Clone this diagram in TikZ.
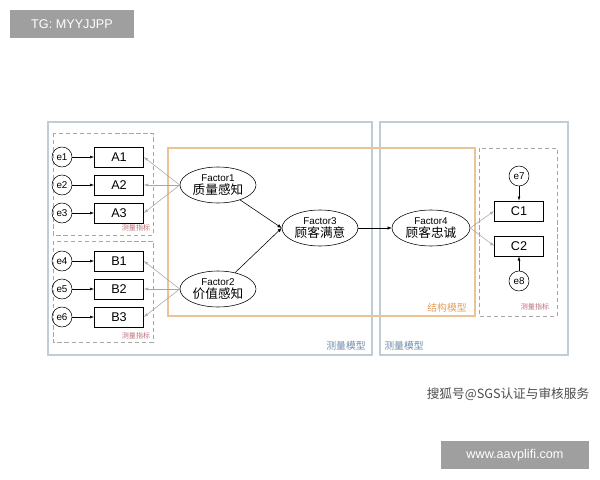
\documentclass[tikz,border=0pt]{standalone}
\usepackage{fontspec}
\setmainfont{Liberation Sans}
\newfontfamily\cjk{Noto Sans CJK SC}
\usetikzlibrary{shapes.geometric,arrows.meta}
\definecolor{framegray}{RGB}{190,205,215}
\definecolor{framelbl}{RGB}{110,140,170}
\definecolor{orangefr}{RGB}{235,195,150}
\definecolor{orangelbl}{RGB}{225,160,90}
\definecolor{redlbl}{RGB}{190,110,120}
\tikzset{
  err/.style={draw, circle, minimum size=20*0.025cm, inner sep=0pt, font=\scriptsize},
  ind/.style={draw, minimum width=49*0.025cm, minimum height=20*0.025cm, inner sep=0pt, font=\small},
  fac/.style={draw, ellipse, minimum width=76*0.025cm, minimum height=36*0.025cm, inner sep=0pt, align=center},
  load/.style={-{Latex[length=3pt,width=2pt]}, gray!70},
  path/.style={-{Latex[length=3pt,width=2.5pt]}, black},
  grp/.style={draw=gray!70, densely dashed},
  lbl/.style={font=\cjk\tiny, text=redlbl}
}
\begin{document}
\begin{tikzpicture}[x=0.025cm, y=-0.025cm]
  \useasboundingbox (0,0) rectangle (600,480);
  % frames
  \draw[framegray, thick] (48,122) rectangle (372,355);
  \draw[framegray, thick] (380,122) rectangle (568,355);
  \draw[orangefr, thick] (168,148) rectangle (475,316);
  \node[font=\cjk\scriptsize, text=framelbl] (lblL) at (346,346) {测量模型};
  \node[font=\cjk\scriptsize, text=framelbl] (lblR) at (404,346) {测量模型};
  \node[font=\cjk\scriptsize, text=orangelbl] (lblS) at (447,308) {结构模型};
  % indicator groups
  \draw[grp] (53,133) rectangle (153,235);
  \draw[grp] (53,241) rectangle (153,342);
  \draw[grp] (479,148) rectangle (557,316);
  \node[lbl] (gA) at (136,228) {测量指标};
  \node[lbl] (gB) at (136,336) {测量指标};
  \node[lbl] (gC) at (535,307) {测量指标};
  % errors and indicators
  \foreach \i/\n/\y in {1/A1/157, 2/A2/185, 3/A3/213, 4/B1/261, 5/B2/289, 6/B3/317} {
    \node[err] (e\i) at (62,\y) {e\i};
    \node[ind] (\n) at (119,\y) {\n};
    \draw[load, black] (e\i) -- (\n);
  }
  \node[ind] (C1) at (519,211) {C1};
  \node[ind] (C2) at (519,246) {C2};
  \node[err] (e7) at (519,176) {e7};
  \node[err] (e8) at (519,281) {e8};
  \draw[load, black] (e7) -- (C1);
  \draw[load, black] (e8) -- (C2);
  % factors
  \node[fac] (F1) at (218,185) {{\scriptsize Factor1}\\[-3pt]{\cjk\small 质量感知}};
  \node[fac] (F2) at (218,289) {{\scriptsize Factor2}\\[-3pt]{\cjk\small 价值感知}};
  \node[fac] (F3) at (320,228) {{\scriptsize Factor3}\\[-3pt]{\cjk\small 顾客满意}};
  \node[fac, minimum width=78*0.025cm] (F4) at (431,228) {{\scriptsize Factor4}\\[-3pt]{\cjk\small 顾客忠诚}};
  % loadings
  \foreach \n in {A1,A2,A3} \draw[load] (F1.west) -- (\n.east);
  \foreach \n in {B1,B2,B3} \draw[load] (F2.west) -- (\n.east);
  \draw[load] (F4.east) -- (C1.west);
  \draw[load] (F4.east) -- (C2.west);
  % structural paths
  \draw[path] (F1) -- (F3.west);
  \draw[path] (F2) -- (F3.west);
  \draw[path] (F3) -- (F4);
  % watermarks
  \fill[gray!75] (10,10) rectangle (134,38);
  \node[text=white, font=\small] (tg) at (72,24) {TG: MYYJJPP};
  \node[text=gray!60!black, font=\cjk\small] (sohu) at (508,394) {搜狐号@SGS认证与审核服务};
  \fill[gray!75] (441,441) rectangle (589,469);
  \node[text=white, font=\small] (url) at (515,455) {www.aavplifi.com};
\end{tikzpicture}
\end{document}
